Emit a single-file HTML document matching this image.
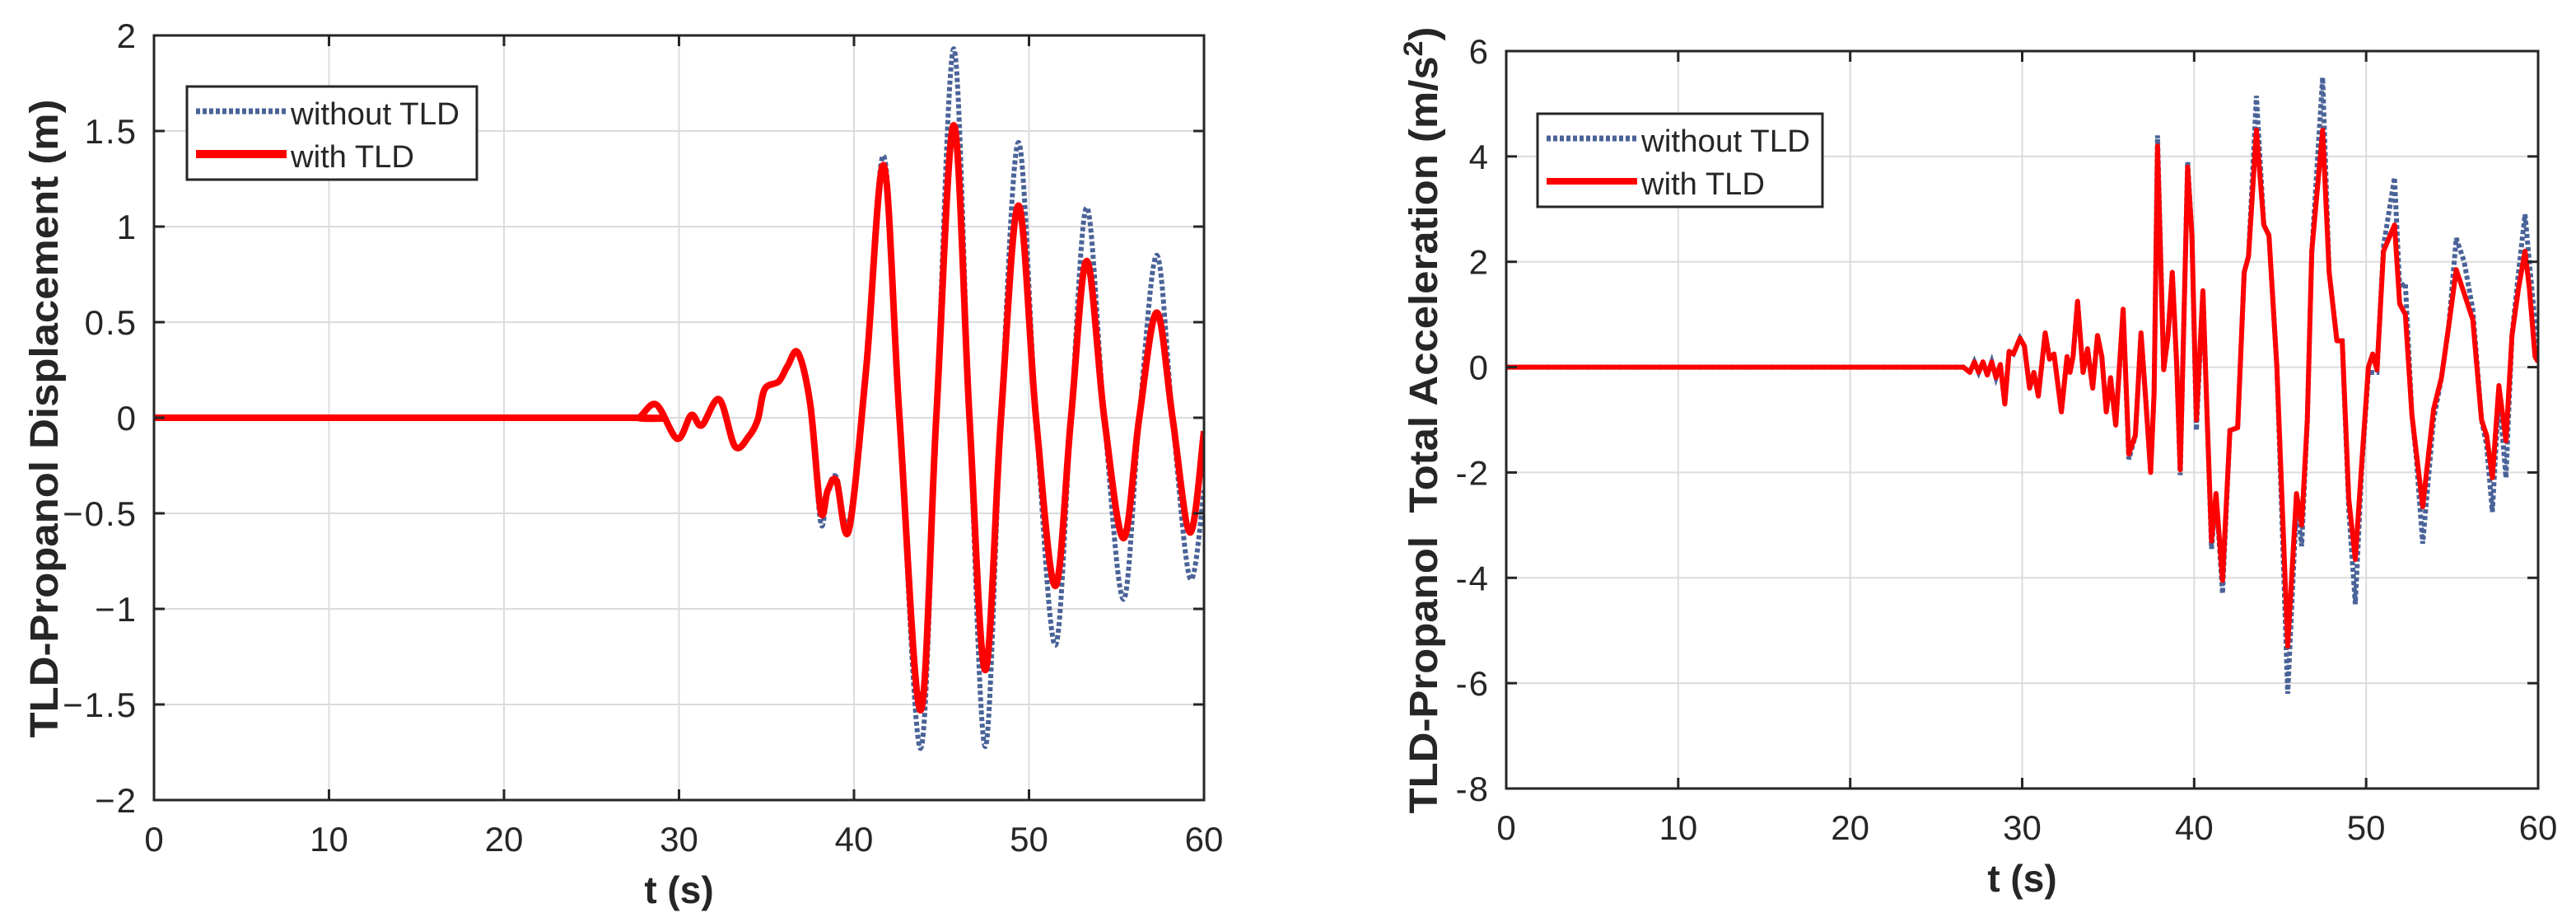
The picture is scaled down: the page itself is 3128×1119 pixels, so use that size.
<!DOCTYPE html>
<html><head><meta charset="utf-8"><style>
html,body{margin:0;padding:0;background:#fff;}
svg{display:block;}
text{font-family:"Liberation Sans",sans-serif;fill:#262626;}
</style></head><body>
<svg id="fig" width="3128" height="1119" viewBox="0 0 3128 1119" xmlns="http://www.w3.org/2000/svg"></svg>
<script>
// ---- Left chart data: displacement ----
const dispT   = [0, 27.0, 27.7, 28.7, 29.9, 30.7, 31.3, 32.3, 33.2, 34.0, 34.5, 34.9, 35.7, 36.2, 36.8, 37.5, 38.1, 38.5, 39.0, 39.7, 40.7, 41.7, 42.6, 43.8, 44.7, 45.7, 46.6, 47.5, 48.4, 49.4, 50.4, 51.5, 52.4, 53.3, 54.3, 55.4, 56.3, 57.3, 58.2, 59.2, 60.0];
const dispWith    = [0, 0, 0.0, 0.069, -0.11, 0.014, -0.04, 0.096, -0.15, -0.096, -0.01, 0.15, 0.19, 0.27, 0.34, 0.07, -0.49, -0.38, -0.33, -0.59, 0.26, 1.32, 0.0, -1.53, 0.0, 1.53, 0.0, -1.32, 0.0, 1.11, 0.0, -0.88, 0.0, 0.82, 0.0, -0.63, 0.0, 0.55, 0.0, -0.6, -0.07];
const dispWithout = [0, 0, 0.0, 0.069, -0.11, 0.014, -0.04, 0.096, -0.15, -0.096, -0.01, 0.15, 0.19, 0.27, 0.34, 0.07, -0.55, -0.38, -0.31, -0.55, 0.26, 1.37, 0.0, -1.73, 0.0, 1.93, 0.0, -1.72, 0.0, 1.44, 0.0, -1.19, 0.0, 1.1, 0.0, -0.95, 0.0, 0.85, 0.0, -0.84, -0.38];
const dispXTicks = [0, 10, 20, 30, 40, 50, 60];
const dispYTicks = [-2, -1.5, -1, -0.5, 0, 0.5, 1, 1.5, 2];
const dispYTickLabels = ["\u22122", "\u22121.5", "\u22121", "\u22120.5", "0", "0.5", "1", "1.5", "2"];

// ---- Right chart data: acceleration ----
const accT = [0, 26.3, 26.58, 26.96, 27.22, 27.47, 27.72, 27.97, 28.23, 28.48, 28.73, 28.99, 29.24, 29.49, 29.87, 30.13, 30.43, 30.68, 30.94, 31.34, 31.59, 31.85, 32.28, 32.61, 32.78, 32.96, 33.22, 33.54, 33.80, 34.10, 34.38, 34.63, 34.89, 35.14, 35.44, 35.87, 36.20, 36.58, 36.91, 37.16, 37.47, 37.67, 37.87, 38.23, 38.48, 38.73, 38.99, 39.19, 39.62, 39.87, 40.13, 40.51, 40.76, 41.01, 41.27, 41.65, 42.08, 42.53, 42.91, 43.16, 43.62, 44.05, 44.35, 44.81, 45.44, 45.95, 46.25, 46.58, 46.84, 47.47, 47.85, 48.30, 48.61, 48.99, 49.37, 49.75, 50.13, 50.38, 50.63, 51.01, 51.65, 51.95, 52.28, 52.66, 52.91, 53.29, 53.92, 54.38, 54.81, 55.24, 55.70, 56.20, 56.71, 57.01, 57.34, 57.72, 58.13, 58.48, 58.86, 59.24, 59.49, 59.82, 60.0];
const accWith = [0, 0, 0, -0.1, 0.1, -0.1, 0.1, -0.15, 0.1, -0.2, 0.05, -0.7, 0.3, 0.25, 0.55, 0.4, -0.4, -0.1, -0.55, 0.65, 0.15, 0.25, -0.85, 0.2, -0.1, 0.2, 1.25, -0.1, 0.35, -0.4, 0.6, 0.2, -0.85, -0.2, -1.1, 1.1, -1.65, -1.3, 0.65, -0.5, -2.0, -0.5, 4.2, -0.05, 0.6, 1.8, 0.0, -1.95, 3.8, 2.5, -1.0, 1.45, -1.0, -3.3, -2.4, -4.05, -1.2, -1.15, 1.8, 2.1, 4.5, 2.7, 2.5, 0, -5.3, -2.4, -3.0, -1.0, 2.2, 4.5, 1.8, 0.5, 0.5, -2.5, -3.65, -1.8, 0.0, 0.25, -0.05, 2.2, 2.7, 1.2, 1.0, -0.9, -1.6, -2.65, -0.8, -0.2, 0.8, 1.85, 1.4, 0.9, -1.0, -1.3, -2.1, -0.35, -1.4, 0.6, 1.5, 2.2, 1.5, 0.2, 0.1];
const accWithout = [0, 0, 0, -0.1, 0.1, -0.1, 0.1, -0.15, 0.1, -0.2, 0.05, -0.7, 0.3, 0.25, 0.55, 0.4, -0.4, -0.1, -0.55, 0.65, 0.15, 0.25, -0.85, 0.2, -0.1, 0.2, 1.25, -0.1, 0.35, -0.4, 0.6, 0.2, -0.85, -0.2, -1.1, 1.1, -1.75, -1.3, 0.65, -0.5, -2.0, -0.5, 4.4, -0.05, 0.6, 1.8, 0.0, -2.05, 3.9, 2.5, -1.2, 1.45, -1.0, -3.45, -2.4, -4.3, -1.2, -1.15, 1.8, 2.1, 5.15, 2.7, 2.5, 0, -6.2, -2.6, -3.4, -1.0, 2.2, 5.5, 1.8, 0.5, 0.5, -2.7, -4.5, -1.9, -0.1, -0.1, -0.1, 2.3, 3.6, 1.5, 1.6, -0.9, -1.7, -3.35, -1.0, -0.2, 0.8, 2.45, 2.0, 1.1, -1.0, -1.5, -2.75, -0.5, -2.1, 0.6, 1.8, 2.9, 2.0, 0.85, 0.2];
const accXTicks = [0, 10, 20, 30, 40, 50, 60];
const accYTicks = [-8, -6, -4, -2, 0, 2, 4, 6];
const accYTickLabels = ["-8", "-6", "-4", "-2", "0", "2", "4", "6"];

const NS = "http://www.w3.org/2000/svg";
const svg = document.getElementById('fig');
function mk(tag, attrs, parent) {
  const e = document.createElementNS(NS, tag);
  for (const k in attrs) e.setAttribute(k, attrs[k]);
  (parent || svg).appendChild(e);
  return e;
}
function scale(d0, d1, r0, r1) { return v => r0 + (v - d0) / (d1 - d0) * (r1 - r0); }

function smoothPath(pts) {
  let d = `M${pts[0][0]},${pts[0][1]}`;
  for (let i = 0; i < pts.length - 1; i++) {
    const p0 = pts[Math.max(0, i - 1)], p1 = pts[i], p2 = pts[i + 1], p3 = pts[Math.min(pts.length - 1, i + 2)];
    const c1x = p1[0] + (p2[0] - p0[0]) / 6, c1y = p1[1] + (p2[1] - p0[1]) / 6;
    const c2x = p2[0] - (p3[0] - p1[0]) / 6, c2y = p2[1] - (p3[1] - p1[1]) / 6;
    d += ` C${c1x},${c1y} ${c2x},${c2y} ${p2[0]},${p2[1]}`;
  }
  return d;
}
function linePath(pts) { return pts.map((p, i) => (i ? 'L' : 'M') + p[0] + ',' + p[1]).join(' '); }

function chart(cfg) {
  const g = mk('g', {});
  
  
  const xs = scale(0, 60, cfg.x0, cfg.x1);
  const ys = scale(cfg.yMin, cfg.yMax, cfg.y1, cfg.y0);
  const grid = mk('g', {}, g);
  
  
  cfg.xTicks.forEach(t => { if (t > 0 && t < 60) mk('line', {x1: xs(t), x2: xs(t), y1: cfg.y0, y2: cfg.y1, stroke: '#dcdcdc', 'stroke-width': 2}, grid); });
  cfg.yTicks.forEach(t => { if (t > cfg.yMin && t < cfg.yMax) mk('line', {x1: cfg.x0, x2: cfg.x1, y1: ys(t), y2: ys(t), stroke: '#dcdcdc', 'stroke-width': 2}, grid); });
  const clip = mk('clipPath', {id: cfg.name + '-clip'}, g);
  mk('rect', {x: cfg.x0, y: cfg.y0, width: cfg.x1 - cfg.x0, height: cfg.y1 - cfg.y0}, clip);
  const ptsB = cfg.t.map((t, i) => [xs(t), ys(cfg.without[i])]);
  const ptsR = cfg.t.map((t, i) => [xs(t), ys(cfg.with[i])]);
  const pb = mk('path', {d: cfg.smooth ? smoothPath(ptsB) : linePath(ptsB), fill: 'none', stroke: '#4a6398', 'stroke-width': cfg.bw, 'stroke-dasharray': '5 3', 'clip-path': `url(#${cfg.name}-clip)`}, g);
  
  
  const pr = mk('path', {d: cfg.smooth ? smoothPath(ptsR) : linePath(ptsR), fill: 'none', stroke: '#ff0000', 'stroke-width': cfg.rw, 'stroke-linejoin': 'round', 'clip-path': `url(#${cfg.name}-clip)`}, g);
  
  
  const box = mk('rect', {x: cfg.x0, y: cfg.y0, width: cfg.x1 - cfg.x0, height: cfg.y1 - cfg.y0, fill: 'none', stroke: '#262626', 'stroke-width': 3}, g);
  
  
  cfg.xTicks.forEach(t => {
    mk('line', {x1: xs(t), x2: xs(t), y1: cfg.y1, y2: cfg.y1 - 13, stroke: '#262626', 'stroke-width': 3}, g);
    mk('line', {x1: xs(t), x2: xs(t), y1: cfg.y0, y2: cfg.y0 + 13, stroke: '#262626', 'stroke-width': 3}, g);
    const tx = mk('text', {x: xs(t), y: cfg.y1 + 62, 'font-size': 42, 'text-anchor': 'middle'}, g);
    tx.textContent = String(t);
    
    
  });
  cfg.yTicks.forEach((t, i) => {
    mk('line', {x1: cfg.x0, x2: cfg.x0 + 13, y1: ys(t), y2: ys(t), stroke: '#262626', 'stroke-width': 3}, g);
    mk('line', {x1: cfg.x1, x2: cfg.x1 - 13, y1: ys(t), y2: ys(t), stroke: '#262626', 'stroke-width': 3}, g);
    const ty = mk('text', {x: cfg.x0 - 20, y: ys(t) + 15, 'font-size': 42, 'text-anchor': 'end', 'letter-spacing': 2}, g);
    ty.textContent = cfg.yLabels[i];
    
    
  });
  const xt = mk('text', {x: (cfg.x0 + cfg.x1) / 2, y: cfg.y1 + 125, 'font-size': 46, 'font-weight': 'bold', 'text-anchor': 'middle'}, g);
  xt.textContent = 't (s)';
  
  
  const yt = mk('text', {x: 0, y: 0, 'font-size': 48, 'font-weight': 'bold', 'text-anchor': 'middle', textLength: cfg.ylen, lengthAdjust: 'spacingAndGlyphs', transform: `translate(${cfg.ylx},${cfg.ylcy}) rotate(-90)`}, g);
  yt.innerHTML = cfg.ytitle;
  
  
  const L = cfg.leg;
  const lg = mk('g', {}, g);
  
  
  mk('rect', {x: L.x, y: L.y, width: L.w, height: L.h, fill: '#fff', stroke: '#262626', 'stroke-width': 3}, lg);
  mk('line', {x1: L.x + 11, x2: L.x + 11 + L.lw, y1: L.y + 30, y2: L.y + 30, stroke: '#4a6398', 'stroke-width': 7, 'stroke-dasharray': '5 3'}, lg);
  mk('line', {x1: L.x + 11, x2: L.x + 11 + L.lw, y1: L.y + 82, y2: L.y + 82, stroke: '#ff0000', 'stroke-width': cfg.rw + 2}, lg);
  const e1 = mk('text', {x: L.x + 16 + L.lw, y: L.y + 46, 'font-size': 38, fill: '#000', textLength: L.t1, lengthAdjust: 'spacingAndGlyphs'}, lg);
  e1.textContent = 'without TLD';
  
  
  const e2 = mk('text', {x: L.x + 16 + L.lw, y: L.y + 98, 'font-size': 38, fill: '#000', textLength: L.t2, lengthAdjust: 'spacingAndGlyphs'}, lg);
  e2.textContent = 'with TLD';
  
  
}

chart({name: 'displacement-chart', x0: 187, x1: 1462, y0: 43, y1: 971, yMin: -2, yMax: 2,
  t: dispT, with: dispWith, without: dispWithout, smooth: true, rw: 8, bw: 6,
  xTicks: dispXTicks, yTicks: dispYTicks, yLabels: dispYTickLabels,
  ytitle: 'TLD-Propanol Displacement (m)', ylx: 70, ylcy: 508, ylen: 775,
  leg: {x: 227, y: 105, w: 352, h: 113, lw: 110, t1: 205, t2: 150}});
chart({name: 'acceleration-chart', x0: 1829, x1: 3082, y0: 62, y1: 957, yMin: -8, yMax: 6,
  t: accT, with: accWith, without: accWithout, smooth: false, rw: 6, bw: 6,
  xTicks: accXTicks, yTicks: accYTicks, yLabels: accYTickLabels,
  ytitle: 'TLD-Propanol&#160; Total Acceleration (m/s<tspan font-size="32" dy="-18">2</tspan><tspan dy="18">)</tspan>', ylx: 1745, ylcy: 510, ylen: 955,
  leg: {x: 1867, y: 138, w: 346, h: 113, lw: 110, t1: 205, t2: 150}});
</script>
</body></html>
